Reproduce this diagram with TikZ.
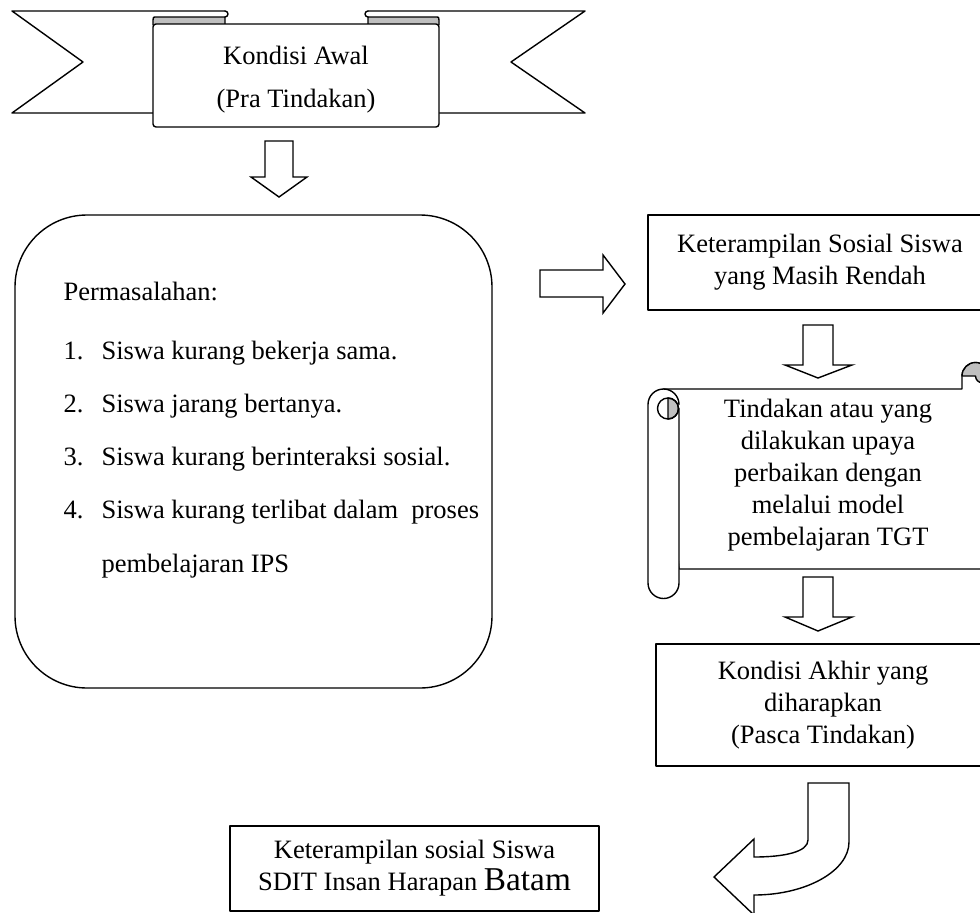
\documentclass[tikz,border=0pt]{standalone}
\usepackage{fontspec}
\setmainfont{Liberation Serif}
\begin{document}
\begin{tikzpicture}[x=1pt, y=-1pt, line join=round, line cap=round,
  font=\fontsize{26.5pt}{32pt}\selectfont,
  garis/.style={draw, line width=1.4pt},
  kotak/.style={garis, fill=white, align=center},
  panah/.style={garis, fill=white, line join=miter}]
\useasboundingbox (0,0) rectangle (980,913);
\clip (0,0) rectangle (980,913);
% pita judul
\draw[garis, fill=white] (225,11) -- (12,11) -- (83,62) -- (12,113) -- (153,113);
\draw[garis, fill=white] (368,11) -- (585,11) -- (511,62) -- (585,113) -- (439,113);
\draw[garis, fill=black!25] (153,25) -- (153,20) .. controls (153,17) .. (157,17) -- (225,17) -- (225,25);
\draw[garis, fill=black!25] (439,25) -- (439,20) .. controls (439,17) .. (435,17) -- (368,17) -- (368,25);
\draw[garis] (225,11) arc[start angle=270, end angle=450, radius=3];
\draw[garis] (368,11) arc[start angle=270, end angle=90, radius=3];
\node[kotak, minimum width=286pt, minimum height=103pt, rounded corners=3pt] (awal) at (296,75.5) {};
\node[align=center, font=\fontsize{26.5pt}{43pt}\selectfont] (awalteks) at (296,80) {Kondisi Awal\\(Pra Tindakan)};
\draw[panah] (265,141) -- (293,141) -- (293,177) -- (307,177) -- (279,197) -- (251,177) -- (265,177) -- cycle;
% permasalahan
\node[garis, rounded corners=72pt, minimum width=477pt, minimum height=473pt] (masalah) at (253.5,451.5) {};
\node[anchor=base west] (judul) at (60,300) {Permasalahan:};
\node[anchor=base west] (n1) at (60,359) {1.};
\node[anchor=base west] (m1) at (98,359) {Siswa kurang bekerja sama.};
\node[anchor=base west] (n2) at (60,412) {2.};
\node[anchor=base west] (m2) at (98,412) {Siswa jarang bertanya.};
\node[anchor=base west] (n3) at (60,465) {3.};
\node[anchor=base west] (m3) at (98,465) {Siswa kurang berinteraksi sosial.};
\node[anchor=base west] (n4) at (60,518) {4.};
\node[anchor=base west] (m4) at (98,518) {Siswa kurang terlibat dalam\ \ proses};
\node[anchor=base west] (m5) at (98,572) {pembelajaran IPS};
\draw[panah] (540,270) -- (603,270) -- (603,255) -- (625,284) -- (603,313) -- (603,297) -- (540,297) -- cycle;
% kolom kanan
\node[kotak, minimum width=344pt, minimum height=95pt] (rendah) at (820,262.5) {Keterampilan Sosial Siswa\\yang Masih Rendah};
\draw[panah] (803,325) -- (833,325) -- (833,365) -- (852,365) -- (818,378) -- (785,365) -- (803,365) -- cycle;
\draw[garis, fill=white] (663.5,389) -- (962,389) -- (962,376) arc[start angle=180, end angle=360, radius=13.5]
  -- (989,569) -- (679,569) -- cycle;
\draw[garis, fill=black!25] (962,376) arc[start angle=180, end angle=360, radius=13.5]
  arc[start angle=0, end angle=180, radius=6.75] -- cycle;
\draw[garis, fill=white] (679,408.5) -- (679,583) arc[start angle=0, end angle=180, radius=15.5]
  -- (648,404.5) arc[start angle=180, end angle=360, radius=15.5];
\draw[garis, fill=black!25] (668,398) arc[start angle=270, end angle=450, radius=10.5] -- cycle;
\draw[garis] (668,408.5) circle[radius=10.5];
\node[align=center] (tindakan) at (828,475) {Tindakan atau yang\\dilakukan upaya\\perbaikan dengan\\melalui model\\pembelajaran TGT};
\draw[panah] (803,577) -- (833,577) -- (833,617) -- (852,617) -- (818,631) -- (785,617) -- (803,617) -- cycle;
\node[kotak, minimum width=334pt, minimum height=122pt] (akhir) at (823,705) {Kondisi Akhir yang\\diharapkan\\(Pasca Tindakan)};
\draw[panah] (808,783) -- (849,783) -- (849,842) .. controls (849,871) and (806,895) .. (754,895)
  -- (754,915) -- (714,877) -- (754,839) -- (754,857) .. controls (784,857) and (808,852) .. (808,840) -- cycle;
\node[kotak, minimum width=369pt, minimum height=85pt] (hasil) at (414.5,868.5)
  {Keterampilan sosial Siswa\\SDIT Insan Harapan {\fontsize{33.3pt}{32pt}\selectfont Batam}};
\end{tikzpicture}
\end{document}
